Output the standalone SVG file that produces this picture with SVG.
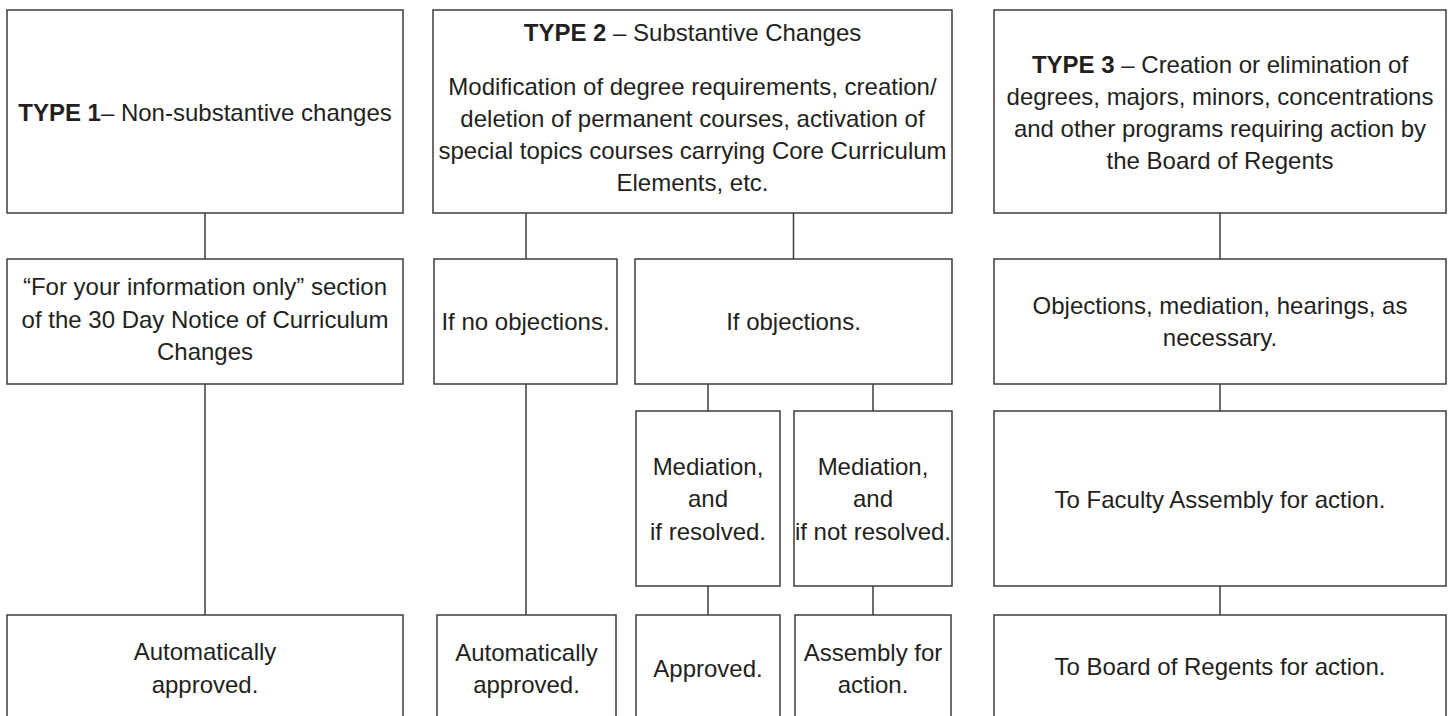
<svg xmlns="http://www.w3.org/2000/svg" width="1450" height="716" viewBox="0 0 1450 716">
<style>
rect.box{fill:#ffffff;stroke:#3c3c3c;stroke-width:1.5}
.conn line{stroke:#3c3c3c;stroke-width:1.5}
text{font-family:"Liberation Sans",Arial,sans-serif;font-size:24px;fill:#231f20;text-anchor:middle}
.b{font-weight:bold}
</style>
<rect x="0" y="0" width="1450" height="716" fill="#ffffff"/>
<g id="connectors" class="conn">
<line x1="205" y1="213" x2="205" y2="259"/>
<line x1="526" y1="213" x2="526" y2="259"/>
<line x1="793.5" y1="213" x2="793.5" y2="259"/>
<line x1="1220" y1="213" x2="1220" y2="259"/>
<line x1="205" y1="384" x2="205" y2="615"/>
<line x1="526" y1="384" x2="526" y2="615"/>
<line x1="708" y1="384" x2="708" y2="411"/>
<line x1="873" y1="384" x2="873" y2="411"/>
<line x1="1220" y1="384" x2="1220" y2="411"/>
<line x1="708" y1="586" x2="708" y2="615"/>
<line x1="873" y1="586" x2="873" y2="615"/>
<line x1="1220" y1="586" x2="1220" y2="615"/>
</g>
<g id="type1">
<rect class="box" x="7" y="10" width="396" height="203"/>
<text x="205" y="121"><tspan class="b">TYPE 1</tspan>– Non-substantive changes</text>
</g>
<g id="type2">
<rect class="box" x="433" y="10" width="519" height="203"/>
<text x="692.5" y="40.5"><tspan class="b">TYPE 2</tspan> – Substantive Changes</text>
<text x="692.5" y="94.5">Modification of degree requirements, creation/</text>
<text x="692.5" y="126.5">deletion of permanent courses, activation of</text>
<text x="692.5" y="158.5">special topics courses carrying Core Curriculum</text>
<text x="692.5" y="190.5">Elements, etc.</text>
</g>
<g id="type3">
<rect class="box" x="994" y="10" width="452" height="203"/>
<text x="1220" y="73"><tspan class="b">TYPE 3</tspan> – Creation or elimination of</text>
<text x="1220" y="105">degrees, majors, minors, concentrations</text>
<text x="1220" y="137">and other programs requiring action by</text>
<text x="1220" y="169">the Board of Regents</text>
</g>
<g id="fyi">
<rect class="box" x="7" y="259" width="396" height="125"/>
<text x="205" y="295">“For your information only” section</text>
<text x="205" y="327.5">of the 30 Day Notice of Curriculum</text>
<text x="205" y="360">Changes</text>
</g>
<g id="no-objections">
<rect class="box" x="434" y="259" width="183" height="125"/>
<text x="525.5" y="330">If no objections.</text>
</g>
<g id="objections">
<rect class="box" x="635" y="259" width="317" height="125"/>
<text x="793.5" y="330">If objections.</text>
</g>
<g id="type3-objections">
<rect class="box" x="994" y="259" width="452" height="125"/>
<text x="1220" y="314">Objections, mediation, hearings, as</text>
<text x="1220" y="346">necessary.</text>
</g>
<g id="mediation-resolved">
<rect class="box" x="636" y="411" width="144" height="175"/>
<text x="708" y="475">Mediation,</text>
<text x="708" y="507">and</text>
<text x="708" y="539.5">if resolved.</text>
</g>
<g id="mediation-not-resolved">
<rect class="box" x="794" y="411" width="158" height="175"/>
<text x="873" y="475">Mediation,</text>
<text x="873" y="507">and</text>
<text x="873" y="539.5">if not resolved.</text>
</g>
<g id="faculty-assembly">
<rect class="box" x="994" y="411" width="452" height="175"/>
<text x="1220" y="507.5">To Faculty Assembly for action.</text>
</g>
<g id="auto-approved-1">
<rect class="box" x="7" y="615" width="396" height="130"/>
<text x="205" y="660">Automatically</text>
<text x="205" y="692.5">approved.</text>
</g>
<g id="auto-approved-2">
<rect class="box" x="437" y="615" width="179" height="130"/>
<text x="526.5" y="661">Automatically</text>
<text x="526.5" y="693">approved.</text>
</g>
<g id="approved">
<rect class="box" x="636" y="615" width="144" height="130"/>
<text x="708" y="677">Approved.</text>
</g>
<g id="assembly">
<rect class="box" x="795" y="615" width="156" height="130"/>
<text x="873" y="661">Assembly for</text>
<text x="873" y="693">action.</text>
</g>
<g id="regents">
<rect class="box" x="994" y="615" width="452" height="130"/>
<text x="1220" y="675">To Board of Regents for action.</text>
</g>
</svg>
